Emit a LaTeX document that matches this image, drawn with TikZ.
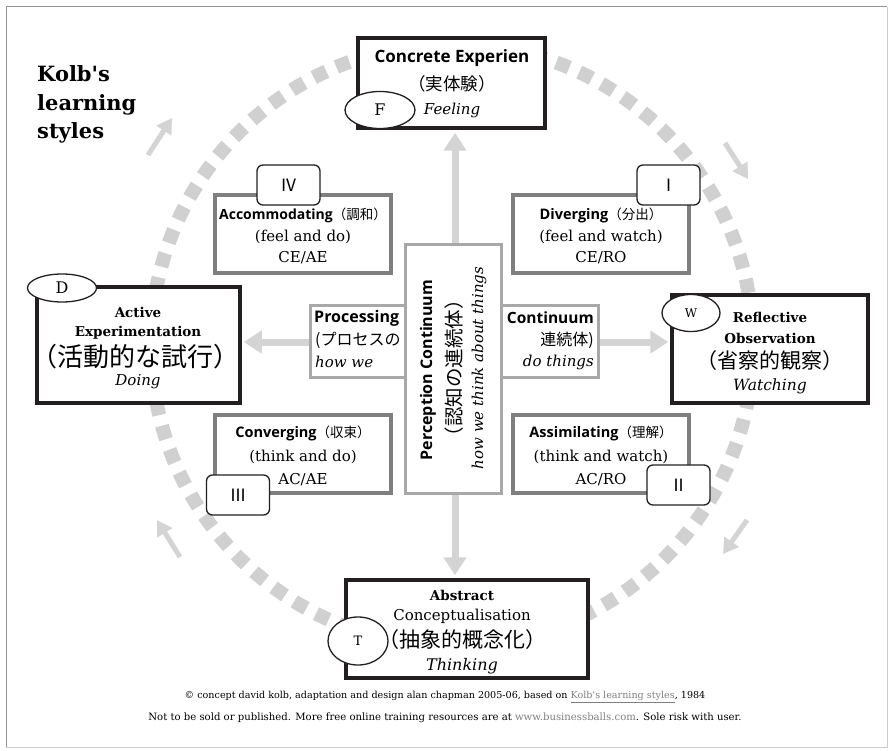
\documentclass[tikz,border=0pt]{standalone}
\usepackage{fontspec}
\setmainfont{DejaVu Serif}
\newfontfamily\jp{Noto Sans CJK JP}
\newfontfamily\nsans{Open Sans}
\usetikzlibrary{arrows.meta,shapes.geometric}
\newcommand\setfs[1]{\fontsize{#1}{#1}\selectfont}
\definecolor{ink}{HTML}{231F20}
\definecolor{qgray}{HTML}{7F7F7F}
\definecolor{cgray}{HTML}{A8A8A8}
\definecolor{agray}{HTML}{D4D4D4}
\definecolor{ringgray}{HTML}{D0D0D0}
\pgfdeclarelayer{bg}
\pgfsetlayers{bg,main}
\tikzset{
  bigbox/.style={draw=ink, line width=3.5pt, fill=white, rectangle, inner sep=0pt},
  qbox/.style={draw=qgray, line width=3.5pt, fill=white, rectangle, inner sep=0pt, minimum width=176pt, minimum height=78pt},
  cbox/.style={draw=cgray, line width=3pt, fill=white, rectangle, inner sep=0pt},
  tagbox/.style={draw=ink, line width=1.3pt, fill=white, rounded corners=6pt, minimum width=63pt, minimum height=40pt, inner sep=0pt, font=\jp\setfs{17}},
  oval/.style={draw=ink, line width=1.3pt, fill=white, ellipse, inner sep=0pt},
  crossarrow/.style={draw=agray, line width=7pt, -{Triangle[width=22pt,length=18pt]}},
  cycarrow/.style={draw=agray, line width=5pt, -{Triangle[width=17pt,length=15pt]}},
  txt/.style={inner sep=0pt, anchor=center},
  bsans/.style={font=\nsans\bfseries\setfs{#1}},
  bserif/.style={font=\bfseries\setfs{#1}},
  rserif/.style={font=\setfs{#1}},
  iserif/.style={font=\itshape\setfs{#1}},
  jtext/.style={font=\jp\setfs{#1}},
}
\begin{document}
\begin{tikzpicture}[x=1pt,y=-1pt]
\useasboundingbox (0,0) rectangle (891,751);

% title
\node[bserif=21, anchor=base west, inner sep=0pt] (t1) at (37,82) {Kolb\textquotesingle s};
\node[bserif=21, anchor=base west, inner sep=0pt] (t2) at (37,111) {learning};
\node[bserif=21, anchor=base west, inner sep=0pt] (t3) at (37,139) {styles};

% ring centre and cycle arrows
\coordinate (rc) at (452,345);
\coordinate (a1s) at (148,155); \coordinate (a1e) at (172,118);
\coordinate (a2s) at (725,143); \coordinate (a2e) at (748,179);
\coordinate (a3s) at (747,520); \coordinate (a3e) at (723,554);
\coordinate (a4s) at (180,557); \coordinate (a4e) at (157,520);

% ---------- boxes ----------
\node[bigbox, minimum width=187pt, minimum height=90pt] (ce) at (451.5,83) {};
\node[bigbox, minimum width=203pt, minimum height=116pt] (ae) at (138.5,345) {};
\node[bigbox, minimum width=196pt, minimum height=108pt] (ro) at (770,349) {};
\node[bigbox, minimum width=242pt, minimum height=98pt] (ac) at (467,629) {};

\node[qbox] (acc) at (303,234) {};
\node[qbox] (div) at (601,234) {};
\node[qbox] (con) at (303,454) {};
\node[qbox] (asm) at (601,454) {};

\node[cbox, minimum width=95pt, minimum height=72pt] (proc) at (357.5,341) {};
\node[cbox, minimum width=97pt, minimum height=72pt] (cont) at (549.5,341) {};
\node[cbox, minimum width=96pt, minimum height=248pt] (pc) at (453,369) {};

% ---------- background: frame, ring and arrows ----------
\begin{pgfonlayer}{bg}
\fill[white] (0,0) rectangle (891,751);
\draw[gray!40, line width=1pt] (887,7) -- (887,747) -- (6,747);
\draw[gray!85, line width=1pt] (6,747) -- (6,7) -- (887,7);
\draw[ringgray, line width=14pt, dash pattern=on 14pt off 11pt] (rc) circle[radius=301];
\draw[cycarrow] (a1s) -- (a1e);
\draw[cycarrow] (a2s) -- (a2e);
\draw[cycarrow] (a3s) -- (a3e);
\draw[cycarrow] (a4s) -- (a4e);
\draw[crossarrow, shorten >=3pt] ([xshift=2pt]pc.north) -- ([xshift=2pt]pc.north |- ce.south);
\draw[crossarrow, shorten >=3pt] ([xshift=2pt]pc.south) -- ([xshift=2pt]pc.south |- ac.north);
\draw[crossarrow, shorten >=2pt] ([yshift=-1pt]proc.west) -- ([yshift=-1pt]proc.west -| ae.east);
\draw[crossarrow, shorten >=2pt] ([yshift=-1pt]cont.east) -- ([yshift=-1pt]cont.east -| ro.west);
\end{pgfonlayer}

% ---------- texts ----------
\node[txt, bsans=17] (ce1) at (452,58) {Concrete Experien};
\node[txt, jtext=17.5] (ce2) at (452,84) {（実体験）};
\node[txt, iserif=15] (ce3) at (452,110) {Feeling};
\node[oval, minimum width=70pt, minimum height=37pt, rserif=16] (fo) at (380,110) {F};

\node[txt, bserif=13.5] (ae1) at (138,312) {Active};
\node[txt, bserif=13.5] (ae2) at (138,333) {Experimentation};
\node[txt, jtext=26] (ae3) at (135,357) {（活動的な試行）};
\node[txt, iserif=15] (ae4) at (138,382) {Doing};
\node[oval, minimum width=69pt, minimum height=28pt, rserif=16] (do) at (62,288) {D};

\node[txt, bserif=13.5] (ro1) at (770,317) {Reflective};
\node[txt, bserif=13.5] (ro2) at (770,338) {Observation};
\node[txt, jtext=21] (ro3) at (770,361) {（省察的観察）};
\node[txt, iserif=15.5] (ro4) at (770,386) {Watching};
\node[oval, minimum width=58pt, minimum height=37pt, rserif=12] (wo) at (691,313) {W};

\node[txt, bserif=13.5] (ac1) at (462,595) {Abstract};
\node[txt, rserif=15] (ac2) at (462,616) {Conceptualisation};
\node[txt, jtext=21] (ac3) at (462,640) {（抽象的概念化）};
\node[txt, iserif=16] (ac4) at (462,666) {Thinking};
\node[oval, minimum width=60pt, minimum height=48pt, rserif=13] (to) at (358,641) {T};

% quadrants
\node[txt] (acc1) at (303,215) {{\nsans\bfseries\setfs{14}Accommodating}{\jp\setfs{13.5}（調和）}};
\node[txt, rserif=15] (acc2) at (303,237) {(feel and do)};
\node[txt, rserif=15] (acc3) at (303,258) {CE/AE};
\node[tagbox] (tag4) at (288.5,185) {Ⅳ};

\node[txt] (div1) at (601,215) {{\nsans\bfseries\setfs{14.5}Diverging}{\jp\setfs{13.5}（分出）}};
\node[txt, rserif=15] (div2) at (601,237) {(feel and watch)};
\node[txt, rserif=15] (div3) at (601,258) {CE/RO};
\node[tagbox] (tag1) at (668.5,185) {Ⅰ};

\node[txt] (con1) at (303,433) {{\nsans\bfseries\setfs{14.5}Converging}{\jp\setfs{13.5}（収束）}};
\node[txt, rserif=15] (con2) at (303,457) {(think and do)};
\node[txt, rserif=15] (con3) at (303,480) {AC/AE};
\node[tagbox] (tag3) at (238,495) {Ⅲ};

\node[txt] (asm1) at (601,433) {{\nsans\bfseries\setfs{14.5}Assimilating}{\jp\setfs{13.5}（理解）}};
\node[txt, rserif=15] (asm2) at (601,457) {(think and watch)};
\node[txt, rserif=15] (asm3) at (601,480) {AC/RO};
\node[tagbox] (tag2) at (678.5,485) {Ⅱ};

% processing / continuum
\node[bsans=16, anchor=west, inner sep=0pt] (pr1) at (314,318) {Processing};
\node[jtext=16, anchor=west, inner sep=0pt] (pr2) at (315,340) {(プロセスの};
\node[iserif=15, anchor=west, inner sep=0pt] (pr3) at (315,362) {how we};
\node[bsans=15.5, anchor=east, inner sep=0pt] (co1) at (594,318) {Continuum};
\node[jtext=16, anchor=east, inner sep=0pt] (co2) at (594,340) {連続体)};
\node[iserif=15, anchor=east, inner sep=0pt] (co3) at (594,362) {do things};

% centre column
\node[txt, bsans=16, rotate=90] (pc1) at (428,370) {Perception Continuum};
\node[txt, jtext=19.5, rotate=90] (pc2) at (454,368) {（認知の連続体）};
\node[txt, iserif=15, rotate=90] (pc3) at (479,368) {how we think about things};

% footer
\node[txt, rserif=9.6] (f1) at (445,697) {© concept david kolb, adaptation and design alan chapman 2005-06, based on \textcolor{gray}{\underline{Kolb\textquotesingle s learning styles}}, 1984};
\node[txt, rserif=10.1] (f2) at (445,718) {Not to be sold or published. More free online training resources are at \textcolor{gray}{www.businessballs.com}. Sole risk with user.};
\end{tikzpicture}
\end{document}
